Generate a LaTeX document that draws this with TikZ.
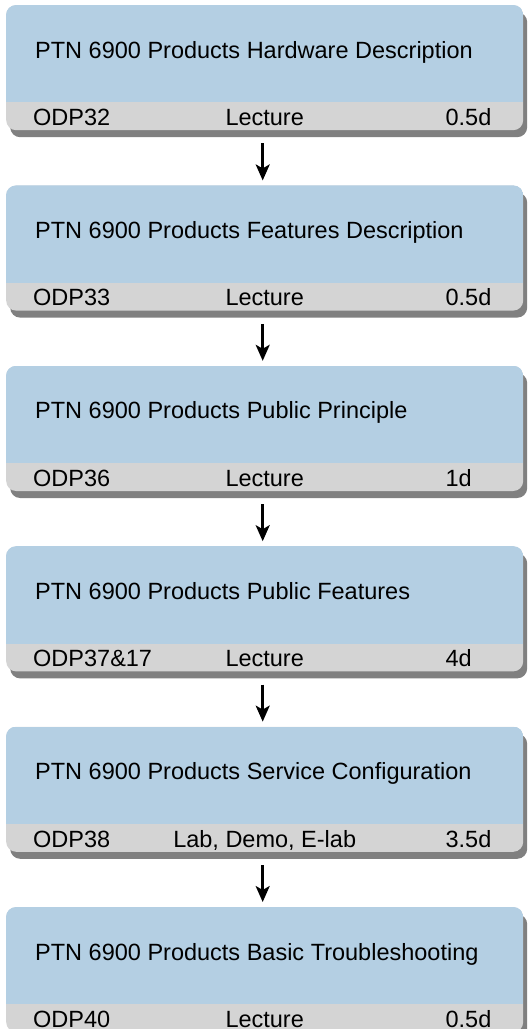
\documentclass[tikz,border=0pt]{standalone}
\usepackage{fontspec}
\setmainfont{Liberation Sans}
\usetikzlibrary{positioning, shadows, arrows.meta}
\usepackage{xcolor}
\definecolor{topblue}{HTML}{B4CFE3}
\definecolor{stripgray}{HTML}{D4D4D4}
\definecolor{shadegray}{HTML}{808080}

\tikzset{
  course/.style={rectangle, rounded corners=10pt, fill=stripgray,
    minimum width=517pt, minimum height=125pt, inner sep=0pt,
    drop shadow={shadow xshift=4pt, shadow yshift=-7pt, fill=shadegray, opacity=1}},
  txt/.style={font=\fontsize{23.5}{28}\selectfont, inner sep=0pt},
  flow/.style={line width=2.5pt, -{Stealth[length=16pt, width=14pt, inset=4pt]},
    shorten <=13pt, shorten >=5pt}
}

\begin{document}
\begin{tikzpicture}
   \useasboundingbox (0,0) rectangle (531pt,-1029pt);

   \node[course, anchor=north west] (box1) at (6pt,-5pt) {};
   \node[course, below=55pt of box1] (box2) {};
   \node[course, below=55pt of box2] (box3) {};
   \node[course, below=55pt of box3] (box4) {};
   \node[course, below=55pt of box4] (box5) {};
   \node[course, below=55pt of box5] (box6) {};

   % blue upper part of each box
   \foreach \b in {box1,box2,box3,box4,box5,box6}{
     \begin{scope}
       \clip[rounded corners=10pt] (\b.south west) rectangle (\b.north east);
       \fill[topblue] ([yshift=28pt]\b.south west) rectangle (\b.north east);
     \end{scope}
   }

   \node[txt, anchor=base west] (title1) at ([xshift=29pt,yshift=-53pt]box1.north west) {PTN 6900 Products Hardware Description};
   \node[txt, anchor=base west] (code1) at ([xshift=27pt,yshift=5pt]box1.south west) {ODP32};
   \node[txt, anchor=base] (type1) at ([yshift=5pt]box1.south) {Lecture};
   \node[txt, anchor=base west] (days1) at ([xshift=-78pt,yshift=5pt]box1.south east) {0.5d};

   \node[txt, anchor=base west] (title2) at ([xshift=29pt,yshift=-53pt]box2.north west) {PTN 6900 Products Features Description};
   \node[txt, anchor=base west] (code2) at ([xshift=27pt,yshift=5pt]box2.south west) {ODP33};
   \node[txt, anchor=base] (type2) at ([yshift=5pt]box2.south) {Lecture};
   \node[txt, anchor=base west] (days2) at ([xshift=-78pt,yshift=5pt]box2.south east) {0.5d};

   \node[txt, anchor=base west] (title3) at ([xshift=29pt,yshift=-53pt]box3.north west) {PTN 6900 Products Public Principle};
   \node[txt, anchor=base west] (code3) at ([xshift=27pt,yshift=5pt]box3.south west) {ODP36};
   \node[txt, anchor=base] (type3) at ([yshift=5pt]box3.south) {Lecture};
   \node[txt, anchor=base west] (days3) at ([xshift=-78pt,yshift=5pt]box3.south east) {1d};

   \node[txt, anchor=base west] (title4) at ([xshift=29pt,yshift=-53pt]box4.north west) {PTN 6900 Products Public Features};
   \node[txt, anchor=base west] (code4) at ([xshift=27pt,yshift=5pt]box4.south west) {ODP37\&17};
   \node[txt, anchor=base] (type4) at ([yshift=5pt]box4.south) {Lecture};
   \node[txt, anchor=base west] (days4) at ([xshift=-78pt,yshift=5pt]box4.south east) {4d};

   \node[txt, anchor=base west] (title5) at ([xshift=29pt,yshift=-53pt]box5.north west) {PTN 6900 Products Service Configuration};
   \node[txt, anchor=base west] (code5) at ([xshift=27pt,yshift=5pt]box5.south west) {ODP38};
   \node[txt, anchor=base] (type5) at ([yshift=5pt]box5.south) {Lab, Demo, E-lab};
   \node[txt, anchor=base west] (days5) at ([xshift=-78pt,yshift=5pt]box5.south east) {3.5d};

   \node[txt, anchor=base west] (title6) at ([xshift=29pt,yshift=-53pt]box6.north west) {PTN 6900 Products Basic Troubleshooting};
   \node[txt, anchor=base west] (code6) at ([xshift=27pt,yshift=5pt]box6.south west) {ODP40};
   \node[txt, anchor=base] (type6) at ([yshift=5pt]box6.south) {Lecture};
   \node[txt, anchor=base west] (days6) at ([xshift=-78pt,yshift=5pt]box6.south east) {0.5d};

   \draw[flow] ([xshift=-2pt]box1.south) -- ([xshift=-2pt]box2.north);
   \draw[flow] ([xshift=-2pt]box2.south) -- ([xshift=-2pt]box3.north);
   \draw[flow] ([xshift=-2pt]box3.south) -- ([xshift=-2pt]box4.north);
   \draw[flow] ([xshift=-2pt]box4.south) -- ([xshift=-2pt]box5.north);
   \draw[flow] ([xshift=-2pt]box5.south) -- ([xshift=-2pt]box6.north);
\end{tikzpicture}
\end{document}
